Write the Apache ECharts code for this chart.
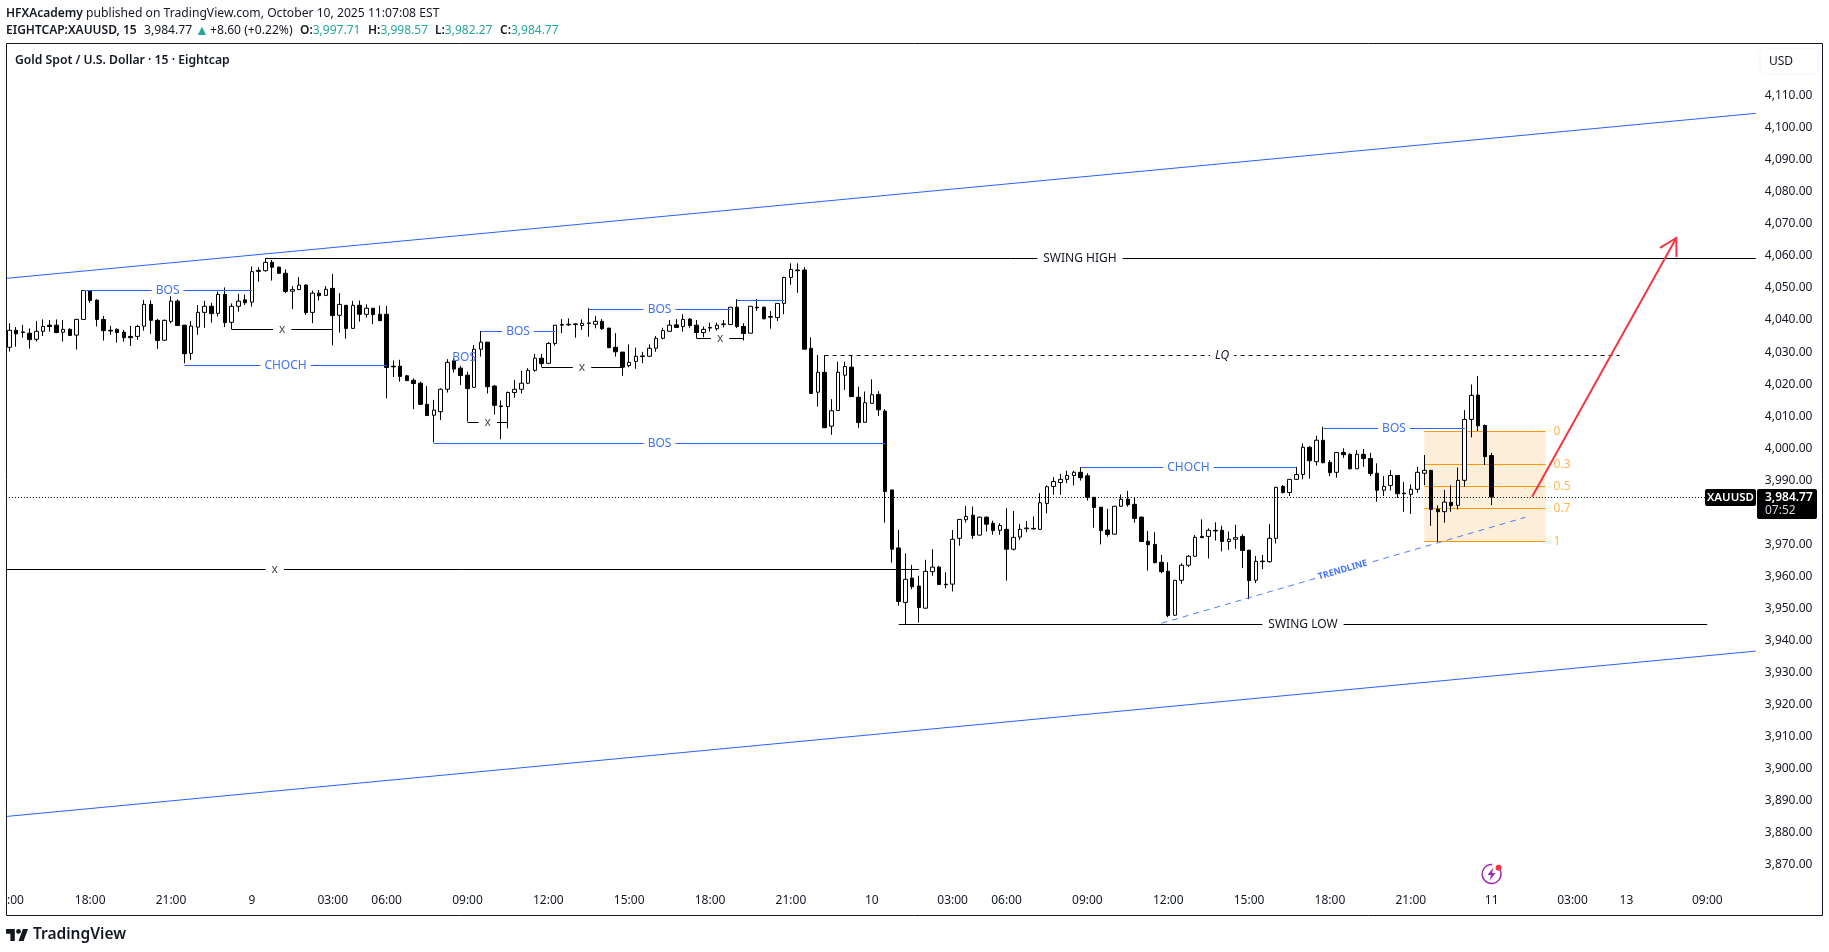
<!DOCTYPE html>
<html>
<head>
<meta charset="utf-8">
<title>XAUUSD 15</title>
<script src="https://cdn.jsdelivr.net/npm/echarts@6/dist/echarts.min.js"></script>
<style>
html,body{margin:0;padding:0;background:#fff;}
#main{width:1829px;height:952px;}
</style>
</head>
<body>
<div id="main"></div>
<script>
// candles
var opens = [
4031.5,4036.8,4036.3,4035.9,4034.0,4036.5,4038.4,4038.4,4036.2,4037.1,
4035.3,4040.2,4049.2,4046.2,4040.2,4036.8,4037.1,4036.2,4034.9,4034.9,
4038.1,4044.9,4039.9,4033.7,4039.6,4045.9,4038.4,4029.6,4037.8,4042.4,
4044.3,4042.1,4048.0,4039.3,4044.3,4046.3,4045.6,4055.5,4055.4,4058.0,
4056.5,4054.6,4049.0,4049.5,4050.9,4042.4,4048.4,4047.7,4049.9,4041.5,
4044.6,4037.4,4044.6,4041.8,4043.7,4041.8,4041.8,4025.6,4025.6,4022.6,
4021.2,4020.3,4013.7,4010.3,4011.4,4018.4,4027.3,4025.0,4022.8,4019.0,
4030.9,4033.1,4019.4,4013.2,4013.0,4017.4,4018.4,4020.3,4024.3,4028.1,
4026.5,4032.7,4038.4,4038.5,4038.8,4038.3,4038.9,4038.7,4039.6,4037.5,
4031.5,4030.0,4025.8,4027.1,4028.6,4028.7,4031.2,4034.3,4036.5,4038.5,
4038.0,4040.3,4038.4,4036.1,4037.5,4037.3,4038.6,4038.6,4044.0,4038.0,
4035.9,4044.0,4044.0,4041.1,4040.8,4045.2,4053.3,4055.6,4055.6,4031.2,
4017.5,4023.7,4006.9,4011.8,4022.8,4025.3,4015.9,4008.1,4014.0,4016.8,
4011.6,3987.0,3968.9,3951.9,3959.5,3957.0,3950.1,3961.5,3962.9,3957.6,
3957.6,3971.9,3977.7,3979.1,3972.9,3978.5,3976.6,3974.4,3974.7,3968.5,
3972.3,3974.9,3975.0,3974.7,3982.8,3988.1,3989.3,3990.3,3991.5,3992.5,
3991.4,3984.7,3981.6,3974.5,3973.2,3981.9,3984.1,3982.5,3978.5,3971.0,
3970.0,3964.4,3961.6,3947.9,3958.8,3963.5,3966.3,3972.5,3972.5,3974.4,
3974.4,3970.9,3971.6,3972.5,3968.2,3958.8,3964.6,3964.6,3971.9,3988.1,
3986.2,3990.3,3991.8,4000.3,3995.8,4002.5,3995.6,3992.5,3998.7,3998.1,
3993.6,3998.1,3996.8,3992.2,3986.9,3988.4,3991.5,3986.0,3985.6,3987.2,
3992.2,3993.1,3981.0,3980.2,3983.1,3982.2,3990.0,4009.0,4016.6,4007.1,3997.71];
var closes = [
4036.8,4035.7,4036.1,4033.9,4036.5,4038.0,4038.0,4036.1,4037.1,4035.2,
4040.2,4049.2,4046.1,4040.2,4036.7,4036.6,4036.1,4034.5,4034.5,4038.0,
4044.9,4039.9,4033.6,4039.9,4045.9,4038.3,4029.5,4038.1,4042.4,4044.3,
4042.0,4048.0,4039.2,4044.3,4045.9,4045.4,4055.1,4055.2,4058.0,4056.5,
4054.6,4048.9,4049.5,4050.9,4042.3,4048.4,4047.6,4049.6,4041.4,4044.9,
4037.4,4044.6,4041.8,4043.7,4041.7,4039.8,4025.2,4025.4,4022.4,4021.1,
4020.2,4013.7,4010.2,4011.9,4018.4,4026.8,4024.7,4022.7,4018.6,4030.9,
4033.1,4019.2,4013.4,4013.0,4017.4,4018.4,4020.3,4024.3,4028.1,4026.4,
4032.7,4038.4,4038.6,4038.7,4038.6,4039.0,4039.1,4039.6,4037.3,4031.4,
4030.1,4025.3,4026.8,4028.7,4028.8,4031.2,4034.3,4036.7,4038.4,4037.7,
4040.2,4038.3,4036.1,4037.1,4037.7,4038.4,4038.8,4044.0,4038.0,4035.8,
4044.3,4043.8,4040.4,4040.9,4045.2,4053.3,4055.8,4055.4,4030.9,4017.1,
4023.7,4006.4,4011.7,4023.7,4025.5,4016.1,4008.0,4014.2,4016.7,4012.0,
3986.5,3968.5,3952.2,3959.1,3956.8,3950.3,3961.6,3962.9,3957.5,3957.4,
3971.6,3977.8,3978.7,3972.8,3978.5,3976.3,3974.3,3975.9,3968.5,3972.2,
3974.7,3975.1,3974.8,3983.0,3988.0,3989.6,3990.3,3991.5,3992.5,3990.8,
3984.7,3981.5,3974.3,3973.1,3981.9,3984.1,3982.4,3978.1,3970.9,3969.9,
3964.3,3961.5,3947.8,3958.8,3963.5,3966.3,3972.2,3972.1,3974.4,3974.2,
3970.9,3971.6,3972.1,3968.1,3958.7,3964.7,3964.8,3971.9,3987.8,3986.2,
3990.3,3991.8,4000.3,3996.1,4002.5,3995.5,3992.4,3998.7,3998.0,3993.6,
3998.1,3996.8,3992.1,3986.9,3988.1,3991.5,3985.8,3985.8,3987.2,3992.5,
3993.1,3980.9,3980.2,3983.2,3982.1,3990.0,4009.0,4016.5,4007.0,3997.4,3984.77];
var lows = [
4030.2,4031.7,4034.5,4031.1,4033.3,4035.0,4036.4,4035.9,4033.3,4035.0,
4030.8,4040.2,4045.4,4038.0,4033.6,4035.4,4033.0,4033.3,4031.9,4033.8,
4036.7,4035.7,4031.0,4033.6,4039.0,4038.2,4026.5,4027.6,4035.4,4037.6,
4039.2,4041.1,4037.8,4037.1,4042.6,4044.7,4044.2,4052.0,4055.1,4052.3,
4054.4,4048.4,4043.4,4049.4,4041.6,4039.0,4046.1,4047.5,4032.1,4036.1,
4034.2,4037.4,4039.5,4040.8,4038.7,4039.7,4015.6,4022.2,4020.8,4021.0,
4012.2,4013.5,4010.2,4001.8,4008.8,4017.4,4023.6,4019.7,4008.3,4019.0,
4028.6,4017.1,4010.5,4002.8,4006.2,4015.8,4017.1,4020.1,4023.9,4025.3,
4026.3,4032.0,4035.9,4038.2,4034.5,4036.9,4034.8,4037.4,4036.9,4031.2,
4028.6,4022.6,4025.3,4024.8,4026.5,4028.6,4030.1,4034.0,4036.3,4037.7,
4036.4,4037.6,4034.3,4034.6,4036.4,4036.7,4037.7,4038.6,4037.5,4033.6,
4035.9,4042.9,4040.2,4037.3,4039.7,4041.8,4051.0,4048.5,4030.9,4017.1,
4013.0,4006.4,4004.2,4011.7,4018.2,4016.1,4006.4,4008.0,4014.0,4010.1,
3976.8,3964.3,3950.9,3945.1,3956.0,3945.6,3950.0,3960.2,3957.4,3956.3,
3955.3,3969.6,3976.8,3971.7,3972.8,3974.0,3973.0,3973.0,3958.7,3968.1,
3971.4,3973.8,3974.7,3974.6,3979.7,3985.5,3985.5,3989.1,3988.4,3989.9,
3983.7,3975.2,3970.0,3972.4,3973.1,3981.8,3981.8,3976.8,3970.9,3961.8,
3964.1,3961.0,3947.3,3947.7,3957.7,3962.9,3966.2,3972.0,3965.6,3971.2,
3967.8,3968.3,3968.6,3962.6,3952.9,3957.9,3962.3,3964.3,3970.3,3985.9,
3985.1,3990.1,3990.3,3990.5,3994.6,3995.3,3991.3,3990.8,3997.0,3993.4,
3993.5,3994.2,3991.3,3983.3,3985.1,3986.8,3984.5,3980.2,3979.5,3986.1,
3988.5,3975.8,3970.8,3976.8,3980.2,3980.9,3988.0,4003.4,4005.4,3994.8,3982.27];
var highs = [
4039.0,4037.8,4038.5,4037.4,4039.7,4040.2,4040.0,4040.2,4040.0,4037.4,
4040.4,4049.4,4049.3,4046.5,4041.3,4038.2,4037.4,4036.9,4038.2,4038.5,
4046.3,4046.1,4040.4,4040.2,4049.2,4046.5,4038.5,4039.7,4044.7,4046.0,
4045.4,4048.9,4050.2,4045.2,4048.2,4048.0,4056.7,4056.5,4059.3,4058.8,
4056.7,4055.8,4050.6,4053.4,4051.2,4049.2,4049.4,4050.6,4054.4,4048.4,
4044.7,4046.0,4046.1,4044.9,4043.7,4044.5,4044.4,4027.4,4027.6,4022.9,
4021.8,4020.8,4019.4,4015.1,4018.7,4027.8,4028.1,4025.7,4023.9,4032.2,
4036.6,4033.1,4019.7,4014.9,4017.7,4021.3,4024.2,4025.0,4029.4,4029.4,
4033.1,4038.4,4040.3,4040.5,4039.0,4040.2,4043.7,4041.3,4040.3,4037.5,
4035.9,4030.0,4032.4,4031.4,4030.1,4032.4,4035.0,4037.6,4040.0,4040.3,
4041.8,4040.6,4040.0,4038.0,4039.2,4039.2,4040.0,4044.0,4046.5,4039.0,
4044.4,4046.5,4044.2,4042.8,4045.2,4053.5,4057.7,4057.7,4056.5,4034.6,
4029.1,4029.0,4015.3,4027.0,4027.0,4028.8,4019.2,4017.7,4021.5,4017.8,
4012.2,3987.0,3974.5,3967.2,3963.6,3960.2,3965.2,3968.5,3963.3,3961.3,
3974.5,3977.9,3982.0,3981.8,3978.7,3978.7,3977.4,3976.6,3981.3,3980.4,
3976.4,3977.3,3978.7,3986.0,3988.4,3991.0,3992.0,3993.0,3993.0,3994.1,
3992.2,3984.7,3981.6,3981.1,3982.0,3985.6,3986.7,3984.6,3978.7,3974.2,
3973.8,3966.7,3964.4,3958.9,3964.1,3966.7,3972.9,3977.8,3975.0,3976.9,
3975.8,3974.0,3976.1,3973.2,3968.3,3966.4,3966.7,3976.4,3988.0,3988.5,
3990.4,3994.2,4001.5,4000.7,4003.9,4006.7,3996.3,3998.7,4000.0,3998.4,
3999.4,3999.8,3998.6,3995.3,3991.3,3993.2,3991.6,3989.5,3988.7,3994.2,
3997.9,3993.2,3982.2,3987.0,3988.5,3994.0,4011.9,4019.9,4022.5,4007.4,3998.57];

// axis labels
var slotCount = 260;
var timeTickSlots = [12,24,36,48,56,68,80,92,104,116,128,140,148,160,172,184,196,208,220,232,240,252];
var timeTickTexts = ['18:00','21:00','9','03:00','06:00','09:00','12:00','15:00','18:00','21:00','10','03:00','06:00','09:00','12:00','15:00','18:00','21:00','11','03:00','13','09:00'];
var priceTicks = [3870,3880,3890,3900,3910,3920,3930,3940,3950,3960,3970,3990,4000,4010,4020,4030,4040,4050,4060,4070,4080,4090,4100,4110];

// drawings: [from bar, to bar, price, label, bar of the label if not the middle]
var blueLevels = [
  [11,36,4049.3,'BOS'],[26,56,4025.9,'CHOCH'],[70,81,4036.5,'BOS'],[86,107,4043.4,'BOS'],
  [108,115,4046.4,''],[63,130,4001.5,'BOS'],[159,191,3994.0,'CHOCH'],[195,216,4006.2,'BOS']
];
var blackLevels = [
  [33,48,4037.1,'x'],[79,91,4025.25,'x'],[102,109,4034.3,'x'],[68,74,4008.1,'x'],
  [-0.5,135,3962.25,'x',39.4],[38,259.2,4059.3,'SWING HIGH',158.9],[132,252,3945.1,'SWING LOW']
];
var lqLevel = [121,239,4029.0,'LQ'];
var looseBos = [67.5,4028.4,'BOS'];
var channelLines = [[-0.5,4053.0,259.2,4104.5],[-0.5,3885.1,259.2,3936.7]];
var trendLine = [171,3945.4,225,3978.45];
var trendLabel = [197.9,3962,'TRENDLINE'];
var arrowLine = [226,3984.9,247.4,4065.6];
var fibBars = [210,228];
var fibHigh = 4005.26, fibLow = 3970.94;
var fibRatios = [0,0.3,0.5,0.7,1];
var lastPrice = 3984.77;

var BLUE = '#2962ff', LABEL_BLUE = '#3f72f6', INK = '#131722', ORANGE = '#ff9800';
var FONT = '"Noto Sans"';

var categories = [];
for (var i = 0; i < slotCount; i++) categories.push('');
timeTickSlots.forEach(function (slot, n) { categories[slot] = timeTickTexts[n]; });

var candles = opens.map(function (o, n) { return [o, closes[n], lows[n], highs[n]]; });

// api.coord rounds the bar on a category axis, so fractions go through two whole bars
function pt(api, bar, price) {
  var p0 = api.coord([0, price]), p1 = api.coord([1, price]);
  return [p0[0] + bar * (p1[0] - p0[0]), p0[1]];
}
function seg(api, x1, p1, x2, p2, color, width, dash) {
  var a = pt(api, x1, p1), b = pt(api, x2, p2);
  if (p1 === p2) { a[1] = b[1] = Math.round(a[1]) + 0.5; }
  return {type: 'line', shape: {x1: a[0], y1: a[1], x2: b[0], y2: b[1]},
    style: {stroke: color, lineWidth: width, lineDash: dash || null, fill: null}};
}
function label(api, bar, price, text, color, font, pad) {
  var p = pt(api, bar, price);
  return {type: 'text', x: p[0], y: p[1], z2: 5, style: {text: text, fill: color, font: font, align: 'center',
    verticalAlign: 'middle', backgroundColor: pad ? '#fff' : null, padding: pad || 0}};
}

function renderFibBox(params, api) {
  var a = pt(api, fibBars[0], fibHigh), b = pt(api, fibBars[1], fibLow);
  var kids = [{type: 'rect', shape: {x: a[0], y: a[1], width: b[0] - a[0], height: b[1] - a[1]},
    style: {fill: '#fdeed9'}}];
  fibRatios.forEach(function (r) {
    var price = fibHigh - r * (fibHigh - fibLow);
    kids.push(seg(api, fibBars[0], price, fibBars[1], price, ORANGE, 1));
    var p = pt(api, fibBars[1], price);
    kids.push({type: 'text', x: p[0] + 8, y: p[1], style: {text: String(r), fill: '#ffb74d',
      font: '12px ' + FONT, align: 'left', verticalAlign: 'middle'}});
  });
  return {type: 'group', children: kids};
}

function renderDrawings(params, api) {
  var kids = [];
  kids.push(seg(api, -0.5, lastPrice, 259.2, lastPrice, '#000', 1, [1, 2]));
  channelLines.forEach(function (l) {
    kids.push(seg(api, l[0], l[1], l[2], l[3], BLUE, 1));
  });
  blackLevels.forEach(function (l) {
    kids.push(seg(api, l[0], l[2], l[1], l[2], '#000', 1));
    var at = l[4] === undefined ? (l[0] + l[1]) / 2 : l[4];
    kids.push(label(api, at, l[2], l[3], l[3] === 'x' ? '#4a4a4a' : INK, '12px ' + FONT, [0, 6]));
  });
  blueLevels.forEach(function (l) {
    kids.push(seg(api, l[0], l[2], l[1], l[2], BLUE, 1));
    if (l[3]) kids.push(label(api, (l[0] + l[1]) / 2, l[2], l[3], LABEL_BLUE, '12px ' + FONT, [0, 4]));
  });
  kids.push(label(api, looseBos[0], looseBos[1], looseBos[2], LABEL_BLUE, '12px ' + FONT));
  kids.push(seg(api, lqLevel[0], lqLevel[2], lqLevel[1], lqLevel[2], '#000', 1, [4, 4]));
  kids.push(label(api, (lqLevel[0] + lqLevel[1]) / 2, lqLevel[2], lqLevel[3], INK, 'italic 12px ' + FONT, [0, 5]));

  kids.push(seg(api, trendLine[0], trendLine[1], trendLine[2], trendLine[3], '#4f7ef7', 1, [6, 5]));
  var t0 = pt(api, trendLine[0], trendLine[1]), t1 = pt(api, trendLine[2], trendLine[3]);
  var tp = pt(api, trendLabel[0], trendLabel[1]);
  kids.push({type: 'text', x: tp[0], y: tp[1], rotation: Math.atan2(t0[1] - t1[1], t1[0] - t0[0]), z2: 5,
    style: {text: trendLabel[2], fill: LABEL_BLUE, font: 'bold 9px ' + FONT, align: 'center',
      verticalAlign: 'middle', backgroundColor: '#fff', padding: [0, 3]}});

  // red arrow with its head
  var a0 = pt(api, arrowLine[0], arrowLine[1]), a1 = pt(api, arrowLine[2], arrowLine[3]);
  var ang = Math.atan2(a1[1] - a0[1], a1[0] - a0[0]);
  kids.push({type: 'polyline', shape: {points: [a0, a1]}, style: {stroke: '#f23645', lineWidth: 2, fill: null}});
  kids.push({type: 'polyline', shape: {points: [
    [a1[0] - 19 * Math.cos(ang - 0.52), a1[1] - 19 * Math.sin(ang - 0.52)], a1,
    [a1[0] - 19 * Math.cos(ang + 0.52), a1[1] - 19 * Math.sin(ang + 0.52)]]},
    style: {stroke: '#f23645', lineWidth: 2, fill: null}});
  return {type: 'group', children: kids};
}

var TEAL = '#26a69a';
var headRich = {
  b: {fontWeight: 600, fontSize: 12, fontFamily: 'Noto Sans', fill: INK},
  n: {fontSize: 12.15, fontFamily: 'Noto Sans', fill: INK},
  t: {fontSize: 12, fontFamily: 'Noto Sans', fill: TEAL},
  a: {fontSize: 14, fontFamily: 'Noto Sans', fill: TEAL}
};

var myChart = echarts.init(document.getElementById('main'));
var option = {
  animation: false,
  backgroundColor: '#fff',
  grid: {left: 5.93, top: 43.5, width: 1751.88, height: 844.5},
  xAxis: {
    type: 'category',
    data: categories,
    axisLine: {show: false},
    axisTick: {show: false},
    splitLine: {show: false},
    axisLabel: {
      margin: 7,
      color: INK,
      fontSize: 12,
      fontFamily: 'Noto Sans',
      interval: function (n) { return categories[n] !== ''; }
    }
  },
  yAxis: {
    type: 'value',
    position: 'right',
    min: 3862.79,
    max: 4126.29,
    axisLine: {show: false},
    axisTick: {show: false},
    splitLine: {show: false},
    axisLabel: {
      margin: 7,
      color: INK,
      fontSize: 12,
      fontFamily: 'Noto Sans',
      padding: [2, 0, 0, 0],
      customValues: priceTicks,
      formatter: function (v) {
        return v.toLocaleString('en-US', {minimumFractionDigits: 2, maximumFractionDigits: 2});
      }
    }
  },
  series: [
    {type: 'custom', coordinateSystem: 'cartesian2d', silent: true, z: 1, data: [[0, 4000]], renderItem: renderFibBox},
    {
      type: 'candlestick',
      z: 2,
      barWidth: 4,
      silent: true,
      data: candles,
      itemStyle: {color: '#fff', color0: '#000', borderColor: '#000', borderColor0: '#000', borderWidth: 1}
    },
    {type: 'custom', coordinateSystem: 'cartesian2d', silent: true, z: 3, data: [[0, 4000]], renderItem: renderDrawings}
  ],
  graphic: [
    {type: 'rect', z: 20, shape: {x: 6.5, y: 43.5, width: 1816, height: 872}, style: {fill: null, stroke: '#131722', lineWidth: 1}},
    {type: 'text', z: 20, x: 6, y: 8, style: {text: '{b|HFXAcademy}{n| published on TradingView.com, October 10, 2025 11:07:08 EST}', rich: headRich}},
    {type: 'text', z: 20, x: 6, y: 25, style: {text: '{b|EIGHTCAP:XAUUSD, 15}', rich: headRich}},
    {type: 'text', z: 20, x: 144, y: 25, style: {text: '{n|3,984.77}', rich: headRich}},
    {type: 'text', z: 20, x: 195, y: 24, style: {text: '{a|▲}', rich: headRich}},
    {type: 'text', z: 20, x: 210, y: 25, style: {text: '{n|+8.60 (+0.22%)}', rich: headRich}},
    {type: 'text', z: 20, x: 300, y: 25, style: {text: '{b|O:}{t|3,997.71}', rich: headRich}},
    {type: 'text', z: 20, x: 368, y: 25, style: {text: '{b|H:}{t|3,998.57}', rich: headRich}},
    {type: 'text', z: 20, x: 435, y: 25, style: {text: '{b|L:}{t|3,982.27}', rich: headRich}},
    {type: 'text', z: 20, x: 500, y: 25, style: {text: '{b|C:}{t|3,984.77}', rich: headRich}},
    {type: 'text', z: 20, x: 15, y: 55, style: {text: 'Gold Spot / U.S. Dollar · 15 · Eightcap', font: '600 12.2px ' + FONT, fill: INK}},
    {type: 'text', z: 20, x: 7, y: 901, style: {text: ':00', font: '12px ' + FONT, fill: INK, verticalAlign: 'middle'}},
    {type: 'rect', z: 20, shape: {x: 1760, y: 48, width: 58, height: 26, r: 5}, style: {fill: '#fff', stroke: '#f0f3fa', lineWidth: 1}},
    {type: 'text', z: 21, x: 1769, y: 56, style: {text: 'USD', font: '12px ' + FONT, fill: INK}},
    {type: 'rect', z: 20, shape: {x: 1705, y: 489, width: 51, height: 17, r: 2}, style: {fill: '#000'}},
    {type: 'text', z: 21, x: 1730.5, y: 497.5, style: {text: 'XAUUSD', font: '600 11.5px ' + FONT, fill: '#fff', align: 'center', verticalAlign: 'middle'}},
    {type: 'rect', z: 20, shape: {x: 1757, y: 489, width: 60, height: 30, r: 2}, style: {fill: '#000'}},
    {type: 'text', z: 21, x: 1765, y: 497.5, style: {text: '3,984.77', font: '600 12px ' + FONT, fill: '#fff', align: 'left', verticalAlign: 'middle'}},
    {type: 'text', z: 21, x: 1765, y: 511, style: {text: '07:52', font: '12px ' + FONT, fill: '#d1d4dc', align: 'left', verticalAlign: 'middle'}},
    // bolt badge
    {type: 'arc', z: 20, shape: {cx: 1491.6, cy: 874, r: 9.5, startAngle: -0.9, endAngle: -1.5, clockwise: true}, style: {fill: null, stroke: '#9c27b0', lineWidth: 1.5}},
    {type: 'polygon', z: 20, shape: {points: [[1493.5, 867.5], [1487.5, 875], [1491, 875], [1489.5, 880.5], [1495.5, 873], [1492, 873]]}, style: {fill: '#9c27b0'}},
    {type: 'circle', z: 21, shape: {cx: 1498.6, cy: 867.7, r: 3}, style: {fill: '#f23645'}},
    // logo
    {type: 'polygon', z: 20, shape: {points: [[14.8, 929], [6, 929], [6, 933.8], [10.4, 933.8], [10.4, 941], [14.8, 941]]}, style: {fill: '#131722'}},
    {type: 'polygon', z: 20, shape: {points: [[23.6, 941], [18.5, 941], [22.9, 929], [28, 929]]}, style: {fill: '#131722'}},
    {type: 'circle', z: 20, shape: {cx: 18.5, cy: 931.4, r: 2.4}, style: {fill: '#131722'}},
    {type: 'text', z: 20, x: 33, y: 935, style: {text: 'TradingView', font: '600 15.5px ' + FONT, fill: '#131722', verticalAlign: 'middle'}}
  ]
};
myChart.setOption(option);
</script>
</body>
</html>
